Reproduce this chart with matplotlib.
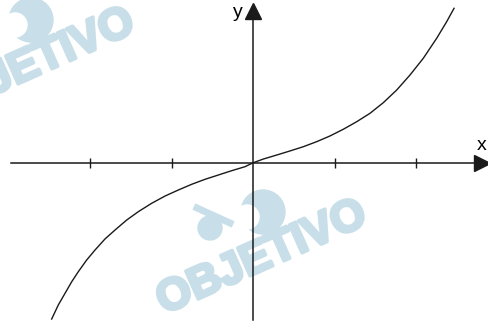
import matplotlib
matplotlib.use("Agg")
import matplotlib.pyplot as plt
import matplotlib.patheffects as pe
from matplotlib.patches import Circle

# pontos (unidade = distancia entre marcas)
curva_x = [-2.474, -2.393, -2.310, -2.228, -2.147, -2.044, -1.942, -1.820, -1.697, -1.553,
           -1.411, -1.247, -1.083, -0.920, -0.756, -0.593, -0.429, -0.265, -0.102, 0.0,
           0.123, 0.287, 0.450, 0.613, 0.778, 0.941, 1.104, 1.269, 1.432, 1.595,
           1.760, 1.923, 2.086, 2.250, 2.373, 2.463]
curva_y = [-1.918, -1.746, -1.602, -1.460, -1.337, -1.193, -1.071, -0.936, -0.826, -0.703,
           -0.601, -0.498, -0.409, -0.335, -0.265, -0.204, -0.151, -0.098, -0.049, 0.0,
           0.045, 0.094, 0.144, 0.196, 0.258, 0.328, 0.410, 0.503, 0.606, 0.736,
           0.892, 1.076, 1.281, 1.526, 1.730, 1.894]
marcas_x = [-2, -1, 1, 2]

azul = "#c8dfe9"
preto = "#1a1a1a"

fig = plt.figure(figsize=(4.88, 3.25), dpi=100)
ax = fig.add_axes([0, 0, 1, 1])
ax.set_xlim(-3.108, 2.880)
ax.set_ylim(-1.991, 1.996)

# marca d'agua (OBJETIVO), posicao em pixels da figura
def marca_dagua(cx, cy):
    pol = fig.dpi_scale_trans
    fig.text(cx / 100, (325 - cy) / 100, "OBJETIVO", transform=pol, color=azul,
             fontsize=32, fontweight="bold", family="Liberation Sans", rotation=24,
             ha="center", va="center", zorder=0,
             path_effects=[pe.withStroke(linewidth=2.5, foreground=azul)])
    fig.lines.append(plt.Line2D([(cx - 65) / 100, (cx - 32) / 100],
                                [(325 - cy + 50) / 100, (325 - cy + 35) / 100],
                                transform=pol, color=azul, lw=5, zorder=0))
    for (dx, dy, r, c) in [(1, -46, 22, azul), (-52, -30, 12, azul), (-15, -41, 12, "white")]:
        fig.patches.append(Circle(((cx + dx) / 100, (325 - cy - dy) / 100), r / 100,
                                  color=c, transform=pol, zorder=0))

marca_dagua(262, 258)
marca_dagua(30, 66)
ax.set_zorder(2)
ax.patch.set_alpha(0)

# eixos
for lado in ["top", "right"]:
    ax.spines[lado].set_visible(False)
ax.spines["left"].set_position(("data", 0))
ax.spines["bottom"].set_position(("data", 0))
ax.spines["left"].set_bounds(-1.93, 1.80)
ax.spines["bottom"].set_bounds(-2.97, 2.75)
for lado in ["left", "bottom"]:
    ax.spines[lado].set_linewidth(1.1)
    ax.spines[lado].set_color(preto)
ax.set_xticks(marcas_x)
ax.set_xticklabels([])
ax.set_yticks([])
ax.tick_params(axis="x", direction="inout", length=7, width=1.0, color=preto)

ax.plot([2.806], [0], marker=">", markersize=11, color=preto, clip_on=False)
ax.plot([0], [1.861], marker="^", markersize=11, color=preto, clip_on=False)

ax.plot(curva_x, curva_y, color=preto, lw=1.0, solid_joinstyle="round")

ax.text(2.806, 0.217, "x", fontsize=14, family="Liberation Sans", ha="center", va="center")
ax.text(-0.188, 1.837, "y", fontsize=14, family="Liberation Sans", ha="center", va="center")

fig.savefig("out.png", dpi=100)
